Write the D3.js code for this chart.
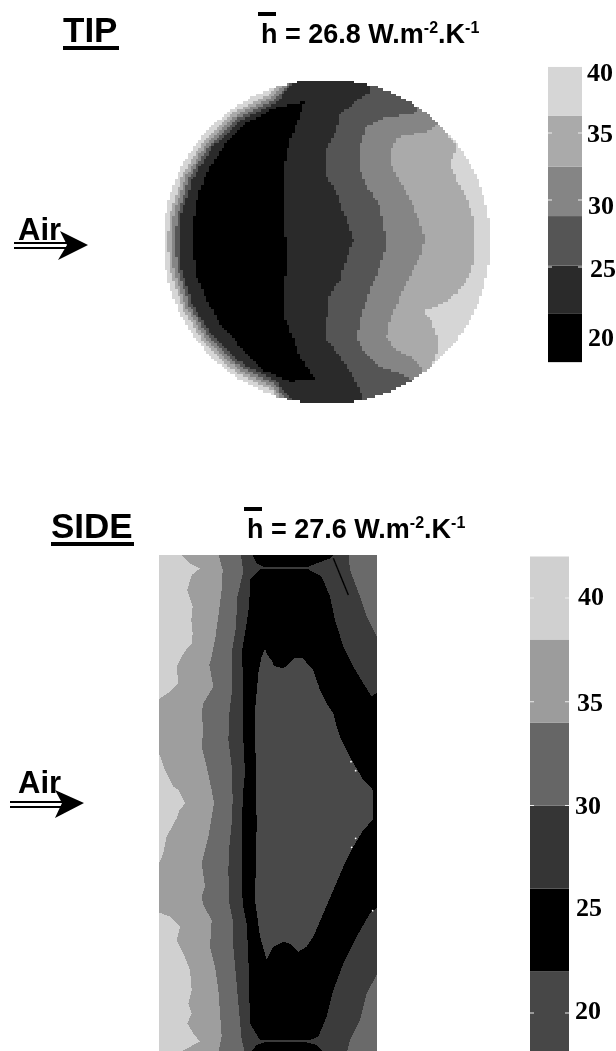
<!DOCTYPE html>
<html>
<head>
<meta charset="utf-8">
<script src="https://cdn.jsdelivr.net/npm/d3@7"></script>
<style>
html, body { margin: 0; padding: 0; background: #fff; }
svg { display: block; }
.head { font-family: "Liberation Sans", Arial, sans-serif; font-weight: bold; fill: #000; }
.bar text { font-family: "Liberation Serif", "Times New Roman", serif; font-weight: bold; font-size: 26px; fill: #000; }
</style>
</head>
<body>
<div id="main"></div>
<script>

var width = 616,
    height = 1051;

// tip map: every band is a closed outline, lighter bands underneath

var tipColors = ["#d6d6d6", "#aaaaaa", "#858585", "#555555", "#2a2a2a", "#000000"];

var tipBand35 = [[860,190],[860,220],[890,250],[920,290],[900,345],[920,390],[950,440],[970,500],[975,580],[975,630],[950,690],[920,730],[870,765],[815,785],[845,810],[860,860],[865,885],[855,930],[835,965],[800,1040],[410,1080],[367,1023],[256,966],[165,882],[98,777],[60,658],[53,575],[60,492],[98,373],[165,268],[256,184],[367,127],[400,90],[600,50]];
var tipBand30 = [[880,205],[860,225],[830,245],[740,262],[725,300],[725,350],[760,410],[790,470],[810,520],[825,570],[810,620],[780,680],[750,740],[720,810],[710,860],[730,895],[780,920],[815,950],[825,975],[790,1040],[420,1080],[371,1013],[263,957],[173,875],[108,772],[71,656],[64,575],[71,494],[108,378],[173,275],[263,193],[371,137],[400,105],[430,60],[800,100]];
var tipBand25 = [[805,170],[800,188],[700,205],[650,230],[630,290],[630,360],[650,410],[690,470],[700,530],[710,580],[690,650],[660,720],[635,790],[620,860],[640,900],[690,950],[760,975],[790,992],[760,1060],[430,1080],[374,1003],[269,948],[181,868],[118,768],[82,654],[75,575],[82,496],[118,382],[181,282],[269,202],[374,147],[420,100],[430,60],[700,60]];
var tipBand20 = [[655,100],[660,125],[610,160],[570,195],[555,250],[525,310],[525,370],[560,430],[590,510],[610,570],[590,620],[570,690],[540,730],[530,810],[530,870],[570,920],[610,980],[640,1040],[640,1080],[450,1080],[378,993],[275,939],[189,861],[127,763],[92,652],[90,575],[92,498],[127,387],[189,289],[275,211],[378,157],[420,110],[450,70],[650,70]];
var tipBandMin = [[465,155],[440,220],[420,270],[405,340],[400,440],[405,530],[410,620],[405,700],[400,790],[420,840],[450,920],[495,985],[420,995],[340,960],[280,900],[210,820],[170,750],[140,680],[130,600],[130,520],[145,430],[175,360],[220,290],[290,220],[370,175]];

var tipOutline = { cx: 530, cy: 575, rx: 490, ry: 487 };

// side map

var sideColors = ["#9e9e9e", "#d0d0d0", "#6a6a6a", "#3a3a3a", "#000000", "#4a4a4a"];

var sideLightTop = [[20,40],[95,45],[120,70],[150,85],[125,105],[112,150],[120,175],[128,200],[124,240],[128,280],[125,310],[108,330],[95,350],[80,380],[85,430],[60,455],[20,482]];
var sideLightMid = [[20,640],[27,640],[45,690],[70,740],[85,750],[105,790],[88,812],[80,835],[50,890],[40,940],[27,970],[20,970]];
var sideLightBot = [[20,1115],[60,1130],[90,1160],[80,1200],[100,1240],[120,1290],[125,1350],[115,1390],[125,1420],[112,1450],[130,1480],[150,1505],[95,1533],[20,1540]];
var sideBand30 = [[205,40],[218,90],[215,150],[205,230],[195,300],[185,350],[178,375],[190,440],[160,490],[155,520],[160,570],[155,620],[170,680],[185,750],[192,790],[175,890],[155,970],[165,1040],[155,1070],[160,1095],[185,1140],[180,1220],[195,1280],[205,1350],[215,1490],[205,1540],[700,1540],[700,40]];
var sideBand25 = [[272,40],[280,95],[262,170],[258,260],[245,340],[245,460],[238,520],[235,600],[245,680],[248,780],[245,850],[238,920],[235,990],[238,1090],[250,1150],[250,1220],[258,1310],[265,1390],[275,1500],[285,1540],[590,1540],[600,1500],[630,1440],[650,1360],[680,1305],[700,1305],[700,290],[680,290],[650,230],[630,170],[600,90],[595,40]];
var sideBandMin = [[330,88],[475,88],[515,110],[540,170],[555,240],[580,320],[610,380],[640,430],[665,470],[680,458],[700,458],[700,1105],[680,1105],[660,1120],[620,1190],[580,1270],[550,1350],[530,1430],[505,1490],[480,1500],[330,1500],[300,1450],[298,1370],[295,1250],[290,1150],[278,1090],[275,990],[275,850],[280,750],[285,700],[280,600],[278,500],[280,420],[275,340],[290,250],[298,190],[300,120]];
var sideLensTop = [[305,40],[555,40],[540,55],[500,70],[470,82],[345,82],[320,70]];
var sideLensBot = [[345,1507],[470,1507],[500,1515],[525,1540],[300,1540],[320,1515]];
var sideCore = [[345,325],[352,345],[365,360],[372,378],[400,385],[418,370],[432,355],[460,355],[475,375],[490,390],[510,450],[530,490],[550,520],[560,560],[570,590],[590,630],[605,660],[640,720],[665,745],[668,750],[668,840],[640,870],[610,920],[580,980],[550,1050],[520,1120],[490,1190],[470,1220],[445,1235],[420,1212],[400,1205],[370,1220],[350,1260],[330,1190],[315,1080],[318,950],[320,850],[318,750],[316,600],[316,500],[325,400],[335,350]];
var sideProbe = [[550,55],[595,165]];
var sideSpecks = [[603,665],[617,692],[617,895],[605,922],[668,1112]];

// colour bars

var tipBreaks = [17.9, 21.5, 25.1, 28.8, 32.5, 36.3, 39.93];
var tipBarColors = ["#000000", "#2a2a2a", "#555555", "#858585", "#aaaaaa", "#d6d6d6"];
var tipLabels = [40, 35, 30, 25, 20];
var tipTickMarks = [35, 30, 25];

var sideBreaks = [18.15, 22, 26, 30, 34, 38, 42];
var sideBarColors = ["#474747", "#000000", "#353535", "#666666", "#9c9c9c", "#d0d0d0"];
var sideLabels = [40, 35, 30, 25, 20];
var sideTickMarks = [40, 35, 30, 20];


var svg = d3.select("div#main").append("svg")
    .attr("width", width)
    .attr("height", height)
    .attr("viewBox", `0 0 ${width} ${height}`);

svg.append("defs").append("filter")
    .attr("id", "soft")
    .attr("x", 0).attr("y", 0).attr("width", 1).attr("height", 1)
    .append("feGaussianBlur")
    .attr("stdDeviation", 0.45);

var page = svg.append("g").attr("filter", "url(#soft)");
page.append("rect").attr("width", width).attr("height", height).attr("fill", "#fff");


// paints the outlines as a coarse grid of cells, the same blocky look as the image
function paintMap(g, xScale, yScale, box, cell, layers, inside) {
    g.attr("shape-rendering", "crispEdges");
    var cols = d3.range(box.x0, box.x1, cell),
        rows = d3.range(box.y0, box.y1, cell);

    rows.forEach(function(py) {
        var top = Math.round(py),
            bottom = Math.round(py + cell),
            run = null;

        function flush(endX) {
            g.append("rect")
                .attr("x", run.x).attr("y", top)
                .attr("width", endX - run.x).attr("height", bottom - top)
                .attr("fill", run.color);
            run = null;
        }

        cols.forEach(function(px) {
            var p = [xScale.invert(px + cell / 2), yScale.invert(py + cell / 2)],
                color = null;
            if (inside(p)) {
                for (var k = 0; k < layers.length; k++) {
                    if (layers[k].outline === null || d3.polygonContains(layers[k].outline, p))
                        color = layers[k].color;
                }
            }
            if (run && run.color !== color) flush(Math.round(px));
            if (!run && color) run = { x: Math.round(px), color: color };
        });
        if (run) flush(box.x1);
    });
}


// TIP map

var tipX = d3.scaleLinear().domain([0, 1080]).range([150, 510]),
    tipY = d3.scaleLinear().domain([0, 1110]).range([50, 420]);

var tipLayers = [
    { outline: null, color: tipColors[0] },
    { outline: tipBand35, color: tipColors[1] },
    { outline: tipBand30, color: tipColors[2] },
    { outline: tipBand25, color: tipColors[3] },
    { outline: tipBand20, color: tipColors[4] },
    { outline: tipBandMin, color: tipColors[5] }
];

paintMap(page.append("g").attr("class", "tip-map"), tipX, tipY,
    { x0: 162, x1: 492, y0: 78, y1: 406 }, 2.6, tipLayers,
    function(p) {
        var a = (p[0] - tipOutline.cx) / tipOutline.rx,
            b = (p[1] - tipOutline.cy) / tipOutline.ry;
        return a * a + b * b <= 1;
    });


// SIDE map

var sideX = d3.scaleLinear().domain([0, 720]).range([150, 390]),
    sideY = d3.scaleLinear().domain([0, 1533]).range([540, 1051]);

var sideLayers = [
    { outline: null, color: sideColors[0] },
    { outline: sideLightTop, color: sideColors[1] },
    { outline: sideLightMid, color: sideColors[1] },
    { outline: sideLightBot, color: sideColors[1] },
    { outline: sideBand30, color: sideColors[2] },
    { outline: sideBand25, color: sideColors[3] },
    { outline: sideBandMin, color: sideColors[4] },
    { outline: sideLensTop, color: sideColors[4] },
    { outline: sideLensBot, color: sideColors[4] },
    { outline: sideCore, color: sideColors[5] }
];

var sideMap = page.append("g").attr("class", "side-map");

paintMap(sideMap, sideX, sideY,
    { x0: 159, x1: 377, y0: 555, y1: 1051 }, 1, sideLayers,
    function() { return true; });

page.append("path")
    .attr("d", d3.line().x(function(d) { return sideX(d[0]); }).y(function(d) { return sideY(d[1]); })(sideProbe))
    .attr("stroke", "#000")
    .attr("stroke-width", 1.4)
    .attr("fill", "none");

page.selectAll(".speck")
    .data(sideSpecks)
    .enter().append("circle")
    .attr("class", "speck")
    .attr("cx", function(d) { return sideX(d[0]); })
    .attr("cy", function(d) { return sideY(d[1]); })
    .attr("r", 0.9)
    .attr("fill", "#fff");


// colour bars

function colorBar(scale, breaks, colors, labels, marks, x0, x1, shifts) {
    var g = page.append("g").attr("class", "bar");

    g.selectAll(".band")
        .data(colors)
        .enter().append("rect")
        .attr("class", "band")
        .attr("x", x0)
        .attr("width", x1 - x0)
        .attr("y", function(d, i) { return scale(breaks[i + 1]); })
        .attr("height", function(d, i) { return scale(breaks[i]) - scale(breaks[i + 1]); })
        .attr("fill", function(d) { return d; });

    // short white marks on both edges
    [[x0, x0 + 4], [x1 - 4, x1]].forEach(function(edge) {
        g.selectAll(null)
            .data(marks)
            .enter().append("line")
            .attr("x1", edge[0])
            .attr("x2", edge[1])
            .attr("y1", function(d) { return scale(d); })
            .attr("y2", function(d) { return scale(d); })
            .attr("stroke", "#eee")
            .attr("stroke-width", 1);
    });

    var axis = g.append("g")
        .attr("transform", `translate(${x1},0)`)
        .call(d3.axisRight(scale).tickValues(labels).tickFormat(d3.format("d")).tickSize(0).tickPadding(0));
    axis.select(".domain").remove();
    axis.attr("font-family", null).attr("font-size", null);
    axis.selectAll("text")
        .attr("transform", function(d) { return `translate(${shifts[d][0]},${shifts[d][1]})`; });
}

var tipBarY = d3.scaleLinear().domain([35, 25]).range([133, 267]);
var sideBarY = d3.scaleLinear().domain([40, 20]).range([598, 1013]);

colorBar(tipBarY, tipBreaks, tipBarColors, tipLabels, tipTickMarks, 548, 582,
    { 40: [5, 6], 35: [5, 0], 30: [6, 5], 25: [8, 1], 20: [6, 3] });
colorBar(sideBarY, sideBreaks, sideBarColors, sideLabels, sideTickMarks, 530, 569,
    { 40: [9, -2], 35: [8, 0], 30: [6, 0], 25: [7, -2], 20: [6, -3] });


// headings

function heading(label, x, baseline, underlineY, underlineW) {
    page.append("text")
        .attr("class", "head")
        .attr("x", x)
        .attr("y", baseline)
        .attr("font-size", 35)
        .text(label);
    page.append("rect")
        .attr("x", x)
        .attr("y", underlineY)
        .attr("width", underlineW)
        .attr("height", 4)
        .attr("fill", "#000");
}

function meanValue(value, x, baseline) {
    var t = page.append("text")
        .attr("class", "head")
        .attr("x", x)
        .attr("y", baseline)
        .attr("font-size", 27);
    t.append("tspan").text("h = " + value + " W.m");
    t.append("tspan").attr("font-size", 16).attr("dy", -10).text("-2");
    t.append("tspan").attr("dy", 10).text(".K");
    t.append("tspan").attr("font-size", 16).attr("dy", -10).text("-1");
    page.append("rect")
        .attr("x", x - 3)
        .attr("y", baseline - 31)
        .attr("width", 18)
        .attr("height", 4)
        .attr("fill", "#000");
}

heading("TIP", 63, 42, 46, 56);
meanValue("26.8", 261, 43);
heading("SIDE", 51, 538, 542, 83);
meanValue("27.6", 247, 538);


// air arrows

function airArrow(x, baseline, lineX0, lineX1, lineY, head) {
    page.append("text")
        .attr("class", "head")
        .attr("x", x)
        .attr("y", baseline)
        .attr("font-size", 31)
        .text("Air");
    [0, 5].forEach(function(off) {
        page.append("line")
            .attr("x1", lineX0)
            .attr("x2", lineX1)
            .attr("y1", lineY + off)
            .attr("y2", lineY + off)
            .attr("stroke", "#000")
            .attr("stroke-width", 2);
    });
    page.append("path")
        .attr("d", d3.line()(head) + "Z")
        .attr("fill", "#000");
}

airArrow(18, 240, 14, 70, 243, [[60, 231], [88, 245], [58, 260], [67, 245]]);
airArrow(18, 793, 10, 65, 802, [[55, 790], [84, 803], [55, 818], [62, 803]]);

</script>
</body>
</html>
